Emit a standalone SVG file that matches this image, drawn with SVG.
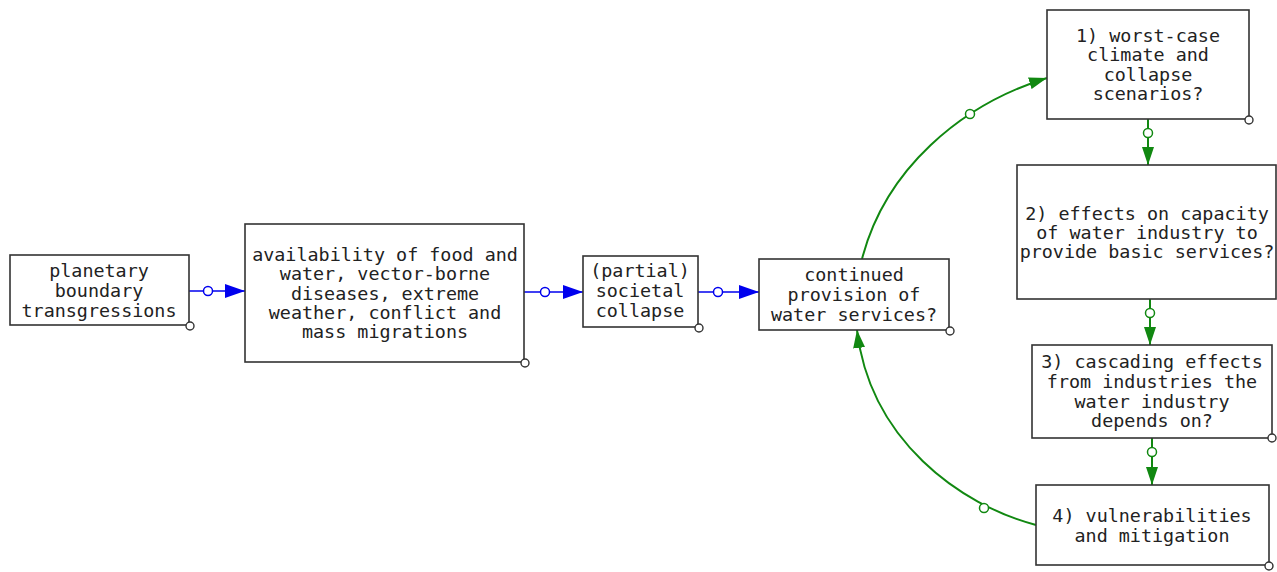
<svg xmlns="http://www.w3.org/2000/svg" width="1277" height="572" viewBox="0 0 1277 572">
<style>
.box{fill:#fff;stroke:#333;stroke-width:1.6}
.cor{fill:#fff;stroke:#333;stroke-width:1.4}
text{font-family:"DejaVu Sans Mono","Liberation Mono",monospace;font-size:18.4px;fill:#222;text-anchor:middle;dominant-baseline:central}
.b{stroke:#0000ee;stroke-width:1.6;fill:none}
.g{stroke:#118811;stroke-width:2;fill:none}
.bc{fill:#fff;stroke:#0000ee;stroke-width:1.5}
.gc{fill:#fff;stroke:#118811;stroke-width:1.5}
</style>
<defs>
<marker id="ab" viewBox="0 0 20 14" refX="20" refY="7" markerWidth="20" markerHeight="14" markerUnits="userSpaceOnUse" orient="auto"><path d="M0,0 L20,7 L0,14 z" fill="#0000ee"/></marker>
<marker id="ag" viewBox="0 0 18 12" refX="18" refY="6" markerWidth="18" markerHeight="12" markerUnits="userSpaceOnUse" orient="auto"><path d="M0,0 L18,6 L0,12 z" fill="#118811"/></marker>
</defs>
<rect width="1277" height="572" fill="#fff"/>
<g id="connectors">
<path class="b" d="M189,291 L245,291" marker-end="url(#ab)"/>
<circle class="bc" cx="208" cy="291" r="4.5"/>
<path class="b" d="M524,292 L583,292" marker-end="url(#ab)"/>
<circle class="bc" cx="545" cy="292" r="4.5"/>
<path class="b" d="M698,292 L759,292" marker-end="url(#ab)"/>
<circle class="bc" cx="718" cy="292" r="4.5"/>
<path class="g" d="M1148,119 L1148,165" marker-end="url(#ag)"/>
<circle class="gc" cx="1148" cy="133" r="4.5"/>
<path class="g" d="M1150,299 L1150,345" marker-end="url(#ag)"/>
<circle class="gc" cx="1150" cy="313" r="4.5"/>
<path class="g" d="M1152,438 L1152,485" marker-end="url(#ag)"/>
<circle class="gc" cx="1152" cy="452" r="4.5"/>
<path class="g" d="M862,259 C885,170 960,105 1047,78" marker-end="url(#ag)"/>
<circle class="gc" cx="970" cy="114" r="4.5"/>
<path class="g" d="M1036,525 C960,505 870,440 857,330" marker-end="url(#ag)"/>
<circle class="gc" cx="984" cy="508" r="4.5"/>
</g>
<g id="n1">
<rect class="box" x="10" y="255" width="179" height="70"/>
<circle class="cor" cx="190" cy="326" r="4"/>
<text x="99" y="270">planetary</text>
<text x="99" y="290">boundary</text>
<text x="99" y="310">transgressions</text>
</g>
<g id="n2">
<rect class="box" x="245" y="224" width="279" height="138"/>
<circle class="cor" cx="525" cy="363" r="4"/>
<text x="385" y="254">availability of food and</text>
<text x="385" y="273">water, vector-borne</text>
<text x="385" y="293">diseases, extreme</text>
<text x="385" y="312">weather, conflict and</text>
<text x="385" y="331">mass migrations</text>
</g>
<g id="n3">
<rect class="box" x="583" y="256" width="115" height="71"/>
<circle class="cor" cx="699" cy="328" r="4"/>
<text x="640" y="270">(partial)</text>
<text x="640" y="290">societal</text>
<text x="640" y="310">collapse</text>
</g>
<g id="n4">
<rect class="box" x="759" y="259" width="190" height="71"/>
<circle class="cor" cx="950" cy="331" r="4"/>
<text x="854" y="274">continued</text>
<text x="854" y="294">provision of</text>
<text x="854" y="314">water services?</text>
</g>
<g id="n5">
<rect class="box" x="1047" y="10" width="202" height="109"/>
<circle class="cor" cx="1249" cy="120" r="4"/>
<text x="1148" y="35">1) worst-case</text>
<text x="1148" y="54">climate and</text>
<text x="1148" y="74">collapse</text>
<text x="1148" y="93">scenarios?</text>
</g>
<g id="n6">
<rect class="box" x="1017" y="165" width="259" height="134"/>
<text x="1147" y="213">2) effects on capacity</text>
<text x="1147" y="232">of water industry to</text>
<text x="1147" y="251">provide basic services?</text>
</g>
<g id="n7">
<rect class="box" x="1032" y="345" width="240" height="93"/>
<circle class="cor" cx="1272" cy="438" r="4"/>
<text x="1152" y="361">3) cascading effects</text>
<text x="1152" y="381">from industries the</text>
<text x="1152" y="401">water industry</text>
<text x="1152" y="420">depends on?</text>
</g>
<g id="n8">
<rect class="box" x="1036" y="485" width="233" height="80"/>
<circle class="cor" cx="1269" cy="566" r="4"/>
<text x="1152" y="515">4) vulnerabilities</text>
<text x="1152" y="535">and mitigation</text>
</g>
</svg>
